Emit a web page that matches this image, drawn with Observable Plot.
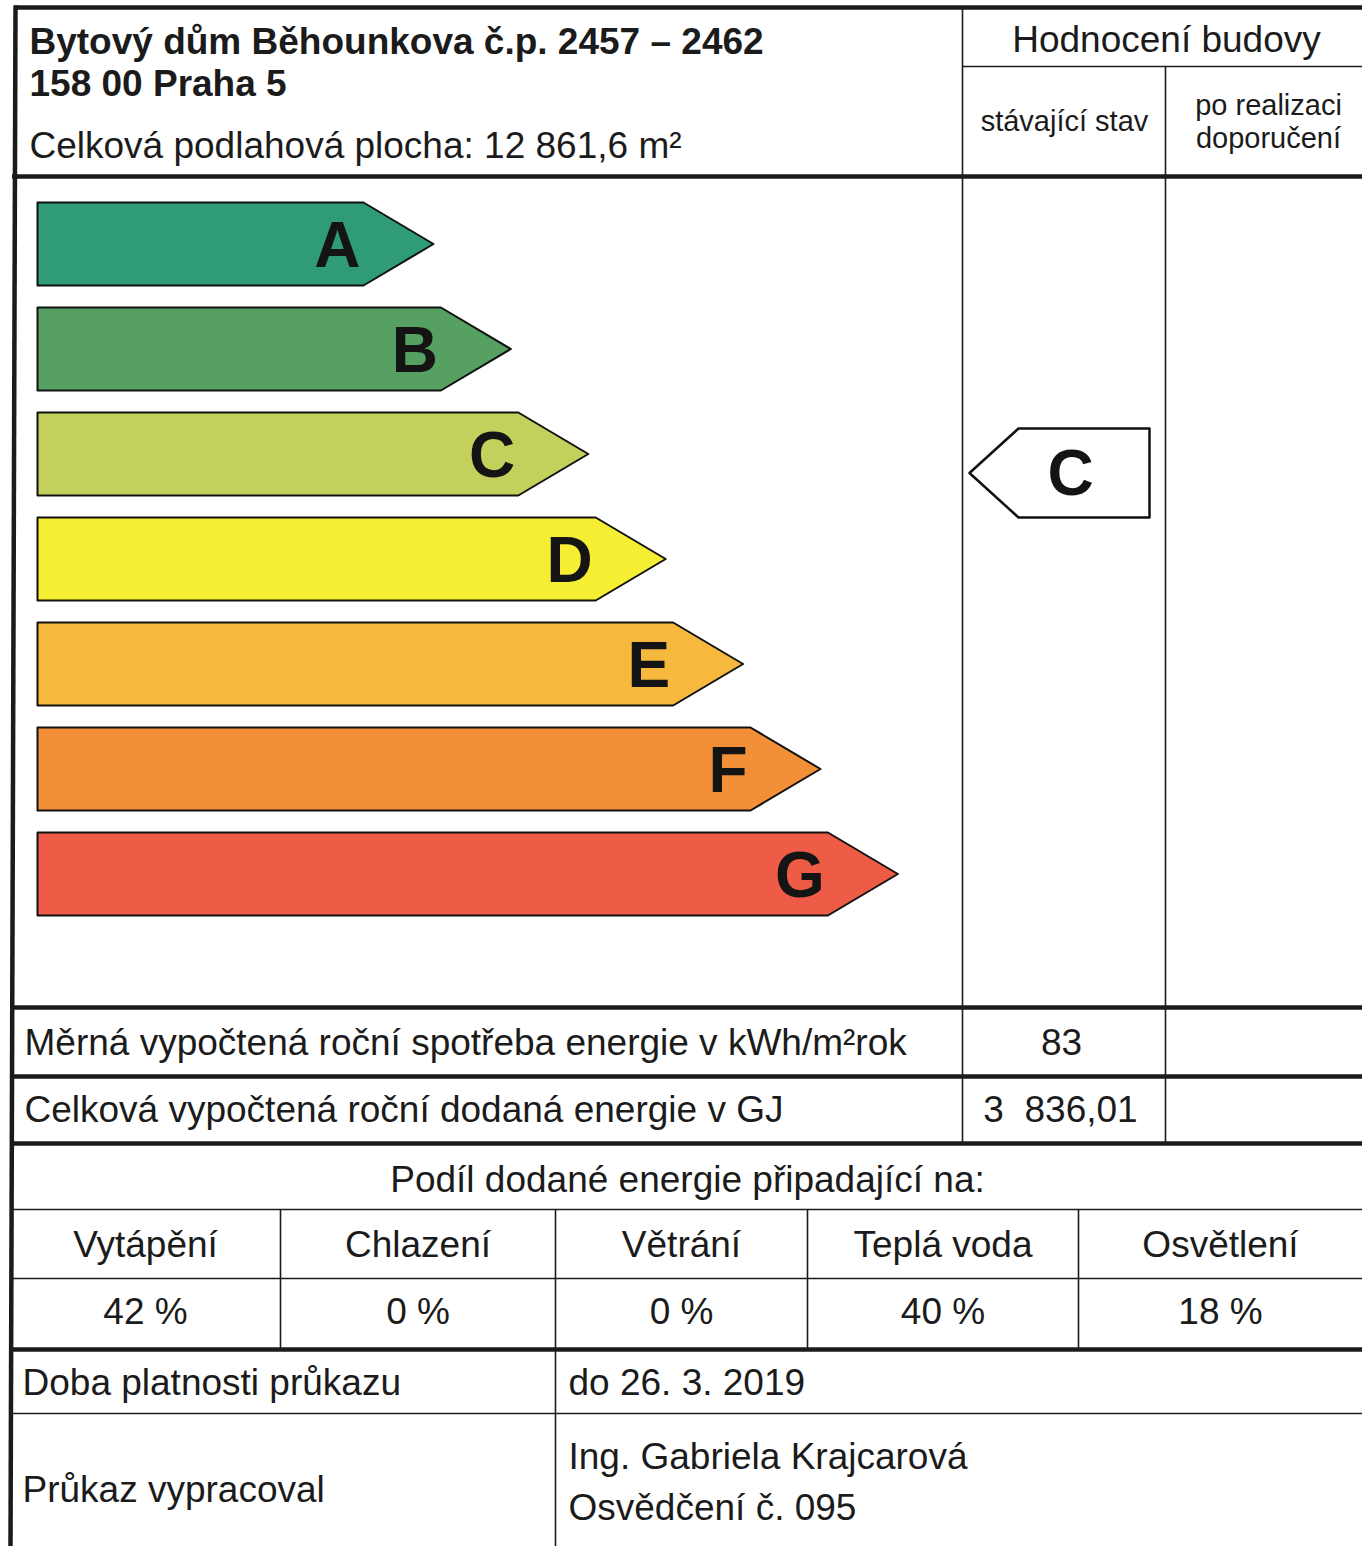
<!DOCTYPE html>
<html>
<head>
<meta charset="utf-8">
<script src="https://cdn.jsdelivr.net/npm/d3@7"></script>
<script src="https://cdn.jsdelivr.net/npm/@observablehq/plot@0.6"></script>
<style>
  html, body { margin: 0; padding: 0; background: #fff; overflow: hidden; }
  #chart svg { display: block; }
</style>
</head>
<body>
<div id="chart"></div>
<script>
// ---------------- DATA ----------------
const classes = ["A", "B", "C", "D", "E", "F", "G"];
const classColors = ["#2f9b78", "#56a062", "#c3d05b", "#f6ee33", "#f6b93e", "#f39037", "#ee5b47"];
const currentRating = "C";

const buildingName = "Bytový dům Běhounkova č.p. 2457 – 2462";
const buildingAddress = "158 00 Praha 5";
const floorArea = "Celková podlahová plocha: 12 861,6 m²";
const ratingHeader = "Hodnocení budovy";
const ratingColumns = ["stávající stav", "po realizaci\ndoporučení"];

const specificEnergyLabel = "Měrná vypočtená roční spotřeba energie v kWh/m²rok";
const specificEnergyValue = "83";
const totalEnergyLabel = "Celková vypočtená roční dodaná energie v GJ";
const totalEnergyValue = "3\u00a0 836,01";

const shareTitle = "Podíl dodané energie připadající na:";
const shareCategories = ["Vytápění", "Chlazení", "Větrání", "Teplá voda", "Osvětlení"];
const shareValues = [42, 0, 0, 40, 18];

const validityLabel = "Doba platnosti průkazu";
const validityValue = "do 26. 3. 2019";
const authorLabel = "Průkaz vypracoval";
const authorLines = ["Ing. Gabriela Krajcarová", "Osvědčení č. 095"];

// ---------------- LAYOUT ----------------
const W = 1362, H = 1546;
const ink = "#1b1b1b";
const font = "'Liberation Sans', Arial, Helvetica, sans-serif";
const arrow = {left: 37, top0: 202, step: 105, h: 83, end0: 363, grow: 77.4, tip: 70};
const col1 = 962, col2 = 1165;           // rating columns
const shareCols = [10, 280, 555, 807, 1078, 1362];
const thickH = [
  {y: 7, x1: 14, x2: W}, {y: 176, x1: 12, x2: W}, {y: 1007, x1: 10, x2: W},
  {y: 1076, x1: 10, x2: W}, {y: 1143, x1: 10, x2: W}, {y: 1349, x1: 10, x2: W}
];
const thinH = [
  {y: 66, x1: col1, x2: W}, {y: 1209, x1: 10, x2: W}, {y: 1278, x1: 10, x2: W}, {y: 1413, x1: 10, x2: W}
];
const thinV = [
  {x: col1, y1: 7, y2: 1143}, {x: col2, y1: 66, y2: 1143},
  ...shareCols.slice(1, -1).map(x => ({x, y1: 1209, y2: 1349})),
  {x: 555, y1: 1349, y2: H}
];

// arrow polygons built from class rank
const arrowPts = classes.flatMap((c, i) => {
  const t = arrow.top0 + i * arrow.step, b = t + arrow.h;
  const e = arrow.end0 + i * arrow.grow, tip = e + arrow.tip;
  return [[arrow.left, t], [e, t], [tip, (t + b) / 2], [e, b], [arrow.left, b]]
    .map(([x, y]) => ({cls: c, x, y}));
});
const arrowLetters = classes.map((c, i) => ({
  cls: c,
  x: arrow.end0 + i * arrow.grow - 3,
  y: arrow.top0 + i * arrow.step + arrow.h / 2 + 3
}));

// current-rating marker (points left)
const ri = classes.indexOf(currentRating);
const mTop = arrow.top0 + ri * arrow.step + 16, mBot = mTop + 89;
const markerPts = [[969, (mTop + mBot) / 2], [1018, mTop], [1149, mTop], [1149, mBot], [1018, mBot]]
  .map(([x, y]) => ({x, y}));

const centers = shareCols.slice(0, -1).map((x, i) => (x + shareCols[i + 1]) / 2);

const textsStart = [
  {x: 29, y: 146, t: floorArea},
  {x: 24, y: 1043, t: specificEnergyLabel},
  {x: 24, y: 1110, t: totalEnergyLabel},
  {x: 22, y: 1383, t: validityLabel},
  {x: 568, y: 1383, t: validityValue},
  {x: 22, y: 1490, t: authorLabel},
  {x: 568, y: 1457, t: authorLines[0]},
  {x: 568, y: 1508, t: authorLines[1]}
];
const textsMiddle = [
  {x: 1061, y: 1043, t: specificEnergyValue},
  {x: 1060, y: 1110, t: totalEnergyValue},
  {x: 687, y: 1180, t: shareTitle},
  ...shareCategories.map((t, i) => ({x: centers[i], y: 1245, t})),
  ...shareValues.map((v, i) => ({x: centers[i], y: 1312, t: `${v} %`}))
];

const chart = Plot.plot({
  width: W, height: H, margin: 0,
  x: {domain: [0, W], range: [0, W], axis: null},
  y: {domain: [0, H], range: [0, H], axis: null},
  color: {type: "ordinal", domain: classes, range: classColors},
  style: {fontFamily: font, background: "#fff", color: ink},
  marks: [
    // energy class arrows
    Plot.line(arrowPts, {x: "x", y: "y", z: "cls", fill: "cls", stroke: "#111", strokeWidth: 2, curve: "linear-closed"}),
    Plot.text(arrowLetters, {x: "x", y: "y", text: "cls", textAnchor: "end", fontSize: 64, fontWeight: "bold", fill: "#141414"}),
    // marker
    Plot.line(markerPts, {x: "x", y: "y", fill: "#fff", stroke: "#111", strokeWidth: 2.5, curve: "linear-closed"}),
    Plot.text([currentRating], {x: () => 1070, y: () => 474, text: d => d, fontSize: 64, fontWeight: "bold", fill: "#141414"}),
    // grid
    Plot.ruleX(thinV, {x: "x", y1: "y1", y2: "y2", stroke: ink, strokeWidth: 1.6}),
    Plot.ruleY(thinH, {y: "y", x1: "x1", x2: "x2", stroke: ink, strokeWidth: 1.6}),
    Plot.ruleY(thickH, {y: "y", x1: "x1", x2: "x2", stroke: ink, strokeWidth: 4.5}),
    Plot.link([{x1: 15, y1: 5, x2: 10, y2: H}], {x1: "x1", y1: "y1", x2: "x2", y2: "y2", stroke: ink, strokeWidth: 4.5}),
    // header texts
    Plot.text([{x: 29, y: 42, t: buildingName}, {x: 29, y: 84, t: buildingAddress}],
      {x: "x", y: "y", text: "t", textAnchor: "start", fontSize: 37, fontWeight: "bold", fill: ink}),
    Plot.text([{x: 1166, y: 40, t: ratingHeader}], {x: "x", y: "y", text: "t", fontSize: 37, fill: ink}),
    Plot.text([{x: 1064, y: 120, t: ratingColumns[0]}, {x: 1268, y: 120, t: ratingColumns[1]}],
      {x: "x", y: "y", text: "t", fontSize: 29, lineHeight: 1.15, fill: ink}),
    // body texts
    Plot.text(textsStart, {x: "x", y: "y", text: "t", textAnchor: "start", fontSize: 37, fill: ink}),
    Plot.text(textsMiddle, {x: "x", y: "y", text: "t", fontSize: 37, fill: ink})
  ]
});
document.getElementById("chart").append(chart);
</script>
</body>
</html>
